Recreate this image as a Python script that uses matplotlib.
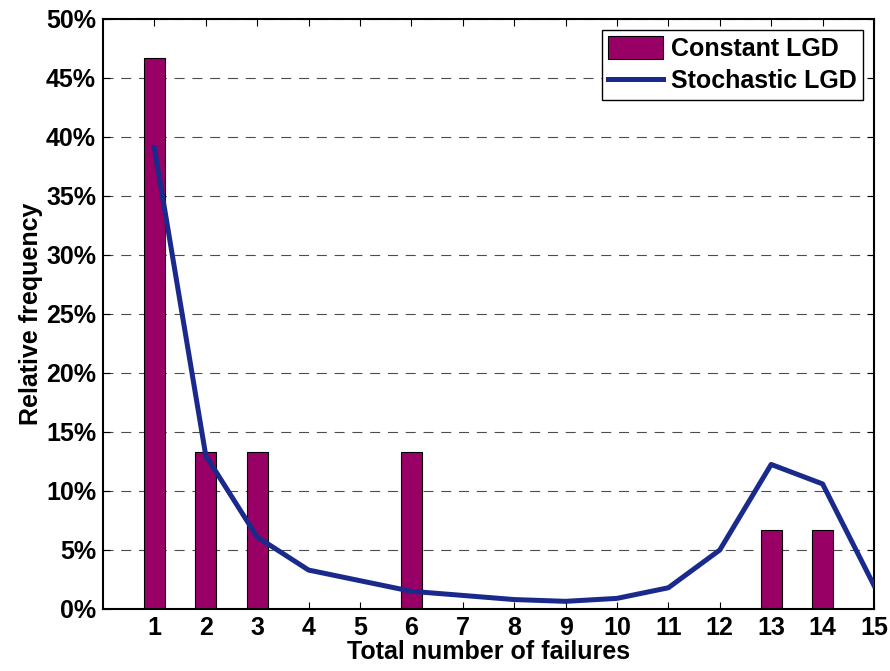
import numpy as np
import matplotlib.pyplot as plt
from matplotlib.ticker import FuncFormatter

plt.rcParams['font.family'] = ['Liberation Sans', 'DejaVu Sans']
plt.rcParams['font.weight'] = 'bold'

failures = [1, 2, 3, 4, 5, 6, 7, 8, 9, 10, 11, 12, 13, 14, 15]
constant_lgd = [46.67, 13.33, 13.33, 0, 0, 13.33, 0, 0, 0, 0, 0, 0, 6.67, 6.67, 0]
stochastic_lgd = [39.1, 13.0, 6.1, 3.3, 2.4, 1.5, 1.15, 0.8, 0.65, 0.9, 1.8, 5.0, 12.25, 10.6, 2.0]

fig = plt.figure(figsize=(8.9, 6.71), dpi=100)
ax = fig.add_axes([0.1157, 0.0924, 0.8663, 0.8793])

bars = ax.bar(failures, constant_lgd, width=0.41, color='#990066', edgecolor='black',
              linewidth=0.8, label='Constant LGD', zorder=2)
line, = ax.plot(failures, stochastic_lgd, color='#1a2a8c', linewidth=3.6,
                label='Stochastic LGD', zorder=3)

ax.set_xlim(0, 15)
ax.set_ylim(0, 50)
ax.set_xticks(failures)
ax.set_yticks(np.arange(0, 51, 5))
ax.yaxis.set_major_formatter(FuncFormatter(lambda v, p: '%d%%' % v))
ax.tick_params(direction='in', top=True, right=True, length=5, width=0.8,
               labelsize=18, pad=5)
for lab in ax.get_xticklabels() + ax.get_yticklabels():
    lab.set_fontweight('bold')

ax.yaxis.grid(True, linestyle=(0, (9, 7)), color='0.3', linewidth=0.8, zorder=0)
ax.set_axisbelow(True)
for s in ax.spines.values():
    s.set_linewidth(1.5)

ax.set_xlabel('Total number of failures', fontsize=18, fontweight='bold', labelpad=0)
ax.set_ylabel('Relative frequency', fontsize=18, fontweight='bold', labelpad=2)

leg = ax.legend([bars, line], ['Constant LGD', 'Stochastic LGD'], loc='upper right',
                fontsize=18, fancybox=False, framealpha=1, edgecolor='black',
                borderaxespad=0.45, handlelength=2.2, handleheight=1.0,
                handletextpad=0.3, borderpad=0.25, labelspacing=0.3)
leg.get_frame().set_linewidth(1.0)
for t in leg.get_texts():
    t.set_fontweight('bold')

fig.savefig('out.png', dpi=100)
